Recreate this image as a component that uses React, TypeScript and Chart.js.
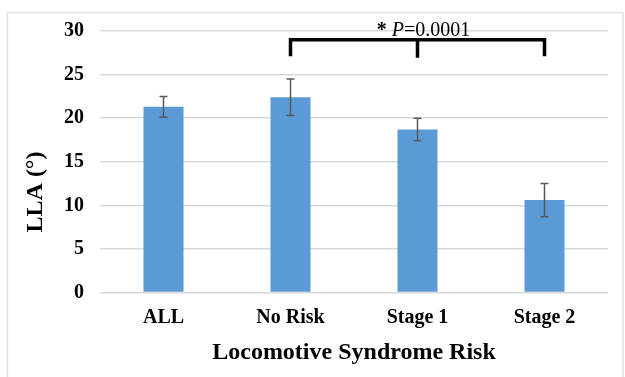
import { useEffect, useRef } from "react";
import { Chart, registerables } from "chart.js";

Chart.register(...registerables);

const categories = ["ALL", "No Risk", "Stage 1", "Stage 2"];
const meanLLA = [21.3, 22.4, 18.7, 10.6];
const errorLLA = [1.2, 2.1, 1.3, 1.9];
const yMin = 0;
const yMax = 30;
const yStep = 5;

// significance bracket (category indices and y values in data units)
const bracketLegs = [1, 2, 3];
const bracketTop = 29.0;
const bracketBottom = 27.1;
const pTextY = 29.4;
const pStar = "* ";
const pItalic = "P";
const pValue = "=0.0001";

const SERIF = "'Liberation Serif', 'Times New Roman', serif";

const framePlugin = {
  id: "frame",
  beforeDraw(chart: any) {
    const ctx = chart.ctx;
    ctx.save();
    ctx.fillStyle = "#ffffff";
    ctx.fillRect(0, 0, chart.width, chart.height);
    ctx.strokeStyle = "#e3e3e3";
    ctx.lineWidth = 1.5;
    ctx.strokeRect(7.5, 12.5, 615.5, 420);
    ctx.restore();
  },
};

const yTitlePlugin = {
  id: "yTitle",
  afterDraw(chart: any) {
    const ctx = chart.ctx;
    ctx.save();
    ctx.translate(36, 192);
    ctx.rotate(-Math.PI / 2);
    ctx.font = `bold 24px ${SERIF}`;
    ctx.fillStyle = "#000000";
    ctx.textAlign = "center";
    ctx.textBaseline = "middle";
    ctx.fillText("LLA (°)", 0, 0);
    ctx.restore();
  },
};

const errorBarPlugin = {
  id: "errorBars",
  afterDatasetsDraw(chart: any) {
    const ctx = chart.ctx;
    const yScale = chart.scales.y;
    const meta = chart.getDatasetMeta(0);
    ctx.save();
    ctx.strokeStyle = "#595959";
    ctx.lineWidth = 1.5;
    meta.data.forEach((bar: any, i: number) => {
      const x = bar.x;
      const top = yScale.getPixelForValue(meanLLA[i] + errorLLA[i]);
      const bottom = yScale.getPixelForValue(meanLLA[i] - errorLLA[i]);
      const cap = 4;
      ctx.beginPath();
      ctx.moveTo(x, top);
      ctx.lineTo(x, bottom);
      ctx.moveTo(x - cap, top);
      ctx.lineTo(x + cap, top);
      ctx.moveTo(x - cap, bottom);
      ctx.lineTo(x + cap, bottom);
      ctx.stroke();
    });
    ctx.restore();
  },
};

const bracketPlugin = {
  id: "bracket",
  afterDraw(chart: any) {
    const ctx = chart.ctx;
    const xScale = chart.scales.x;
    const yScale = chart.scales.y;
    const xs = bracketLegs.map((i) => xScale.getPixelForValue(i));
    const yTop = yScale.getPixelForValue(bracketTop);
    const yBot = yScale.getPixelForValue(bracketBottom);
    ctx.save();
    ctx.strokeStyle = "#000000";
    ctx.lineWidth = 3.5;
    ctx.lineCap = "butt";
    ctx.beginPath();
    ctx.moveTo(xs[0], yBot);
    ctx.lineTo(xs[0], yTop);
    ctx.lineTo(xs[xs.length - 1], yTop);
    ctx.lineTo(xs[xs.length - 1], yBot);
    ctx.moveTo(xs[1], yTop);
    ctx.lineTo(xs[1], yBot + 1.5);
    ctx.stroke();

    // p-value label
    const fontReg = `20px ${SERIF}`;
    const fontStar = `bold 20px ${SERIF}`;
    const fontIt = `italic 20px ${SERIF}`;
    ctx.font = fontStar;
    const w1 = ctx.measureText(pStar).width;
    ctx.font = fontIt;
    const w2 = ctx.measureText(pItalic).width;
    ctx.font = fontReg;
    const w3 = ctx.measureText(pValue).width;
    const total = w1 + w2 + w3;
    let x = xs[1] + 6 - total / 2;
    const y = yScale.getPixelForValue(pTextY);
    ctx.fillStyle = "#000000";
    ctx.textBaseline = "alphabetic";
    ctx.textAlign = "left";
    ctx.font = fontStar;
    ctx.fillText(pStar, x, y);
    x += w1;
    ctx.font = fontIt;
    ctx.fillText(pItalic, x, y);
    x += w2;
    ctx.font = fontReg;
    ctx.fillText(pValue, x, y);
    ctx.restore();
  },
};

export default function App() {
  const canvasRef = useRef<HTMLCanvasElement | null>(null);

  useEffect(() => {
    const canvas = canvasRef.current;
    if (!canvas) return;
    const chart = new Chart(canvas, {
      type: "bar",
      data: {
        labels: categories,
        datasets: [
          {
            label: "LLA",
            data: meanLLA,
            backgroundColor: "#5b9bd5",
            borderWidth: 0,
            barPercentage: 0.315,
            categoryPercentage: 1,
          },
        ],
      },
      options: {
        animation: false,
        responsive: false,
        devicePixelRatio: 1,
        layout: { padding: { top: 31, right: 17, bottom: 0, left: 0 } },
        plugins: {
          legend: { display: false },
          tooltip: { enabled: false },
        },
        scales: {
          x: {
            grid: { display: false, drawTicks: false },
            border: { display: false },
            ticks: {
              color: "#000000",
              padding: 13,
              font: { family: SERIF, size: 20, weight: "bold" },
            },
            title: {
              display: true,
              text: "Locomotive Syndrome Risk",
              color: "#000000",
              font: { family: SERIF, size: 24, weight: "bold" },
              padding: { top: 0, bottom: 10 },
            },
            afterFit(scale: any) {
              scale.height = 84.5;
            },
          },
          y: {
            min: yMin,
            max: yMax,
            grid: { color: "#d9d9d9", lineWidth: 1.5, drawTicks: false },
            border: { display: false },
            ticks: {
              stepSize: yStep,
              color: "#000000",
              padding: 16,
              font: { family: SERIF, size: 20, weight: "bold" },
            },
            afterFit(scale: any) {
              scale.width = 100;
            },
          },
        },
      },
      plugins: [framePlugin, errorBarPlugin, bracketPlugin, yTitlePlugin],
    });
    return () => chart.destroy();
  }, []);

  return (
    <div style={{ position: "fixed", left: 0, top: 0, width: 625, height: 377, background: "#fff" }}>
      <canvas ref={canvasRef} width={625} height={377} style={{ display: "block", width: 625, height: 377 }} />
    </div>
  );
}
